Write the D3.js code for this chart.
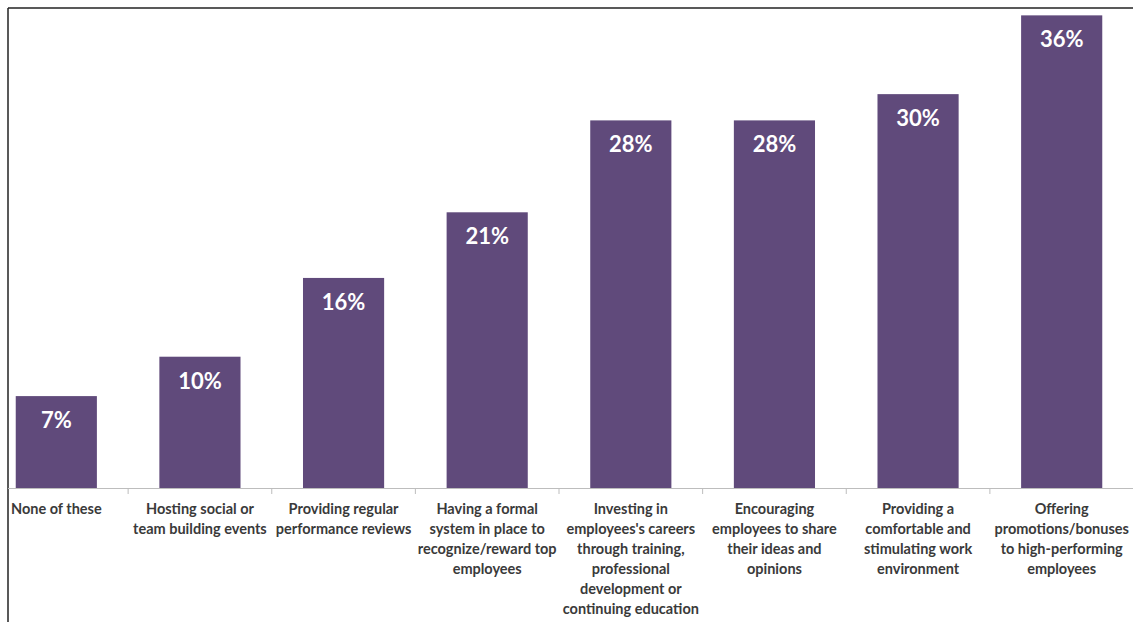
<!DOCTYPE html>
<html>
<head>
<meta charset="utf-8">
<script src="https://cdn.jsdelivr.net/npm/d3@7"></script>
<style>
  body { margin: 0; background: #fff; }
  svg { display: block; }
</style>
</head>
<body>
<div id="chart"></div>
<script>
var w = 1133;
var h = 622;

// data
var categories = [
  "None of these",
  "Hosting social or team building events",
  "Providing regular performance reviews",
  "Having a formal system in place to recognize/reward top employees",
  "Investing in employees's careers through training, professional development or continuing education",
  "Encouraging employees to share their ideas and opinions",
  "Providing a comfortable and stimulating work environment",
  "Offering promotions/bonuses to high-performing employees"
];
var values = [7, 10, 16, 21, 28, 28, 30, 36];
// line breaks as they appear under each bar
var labelLines = [
  ["None of these"],
  ["Hosting social or", "team building events"],
  ["Providing regular", "performance reviews"],
  ["Having a formal", "system in place to", "recognize/reward top", "employees"],
  ["Investing in", "employees's careers", "through training,", "professional", "development or", "continuing education"],
  ["Encouraging", "employees to share", "their ideas and", "opinions"],
  ["Providing a", "comfortable and", "stimulating work", "environment"],
  ["Offering", "promotions/bonuses", "to high-performing", "employees"]
];

var x = d3.scaleBand()
  .domain(categories)
  .range([-15.5, 1133.5])
  .paddingInner(0.435)
  .paddingOuter(0.2175);

var y = d3.scaleLinear()
  .domain([0, 37.17])
  .range([488, 0]);

var svg = d3.select("#chart").append("svg")
  .attr("width", w)
  .attr("height", h);

// frame
svg.append("line")
  .attr("x1", 8).attr("x2", w).attr("y1", 8).attr("y2", 8)
  .style("stroke", "#222").style("stroke-width", 1.5);
svg.append("line")
  .attr("x1", 8).attr("x2", 8).attr("y1", 8).attr("y2", h)
  .style("stroke", "#222").style("stroke-width", 1.5);

svg.selectAll("rect.bar")
  .data(values)
  .join("rect")
  .attr("class", "bar")
  .attr("x", function (d, i) { return x(categories[i]); })
  .attr("y", function (d) { return y(d); })
  .attr("width", x.bandwidth())
  .attr("height", function (d) { return y(0) - y(d); })
  .style("fill", "#604a7b");

svg.selectAll("text.val")
  .data(values)
  .join("text")
  .attr("class", "val")
  .attr("x", function (d, i) { return x(categories[i]) + x.bandwidth() / 2; })
  .attr("y", function (d) { return y(d) + 32; })
  .attr("text-anchor", "middle")
  .style("font-family", "Lato, 'Open Sans', sans-serif")
  .style("font-weight", "bold")
  .style("font-size", "22px")
  .style("fill", "#fff")
  .text(function (d) { return d + "%"; });

// x axis: baseline with ticks between categories
var step = x.step();
svg.append("line")
  .attr("x1", 8).attr("x2", w).attr("y1", y(0) + 0.5).attr("y2", y(0) + 0.5)
  .style("stroke", "#bdbdbd");
svg.selectAll("line.tick")
  .data(categories.slice(1))
  .join("line")
  .attr("class", "tick")
  .attr("x1", function (d) { return x(d) - (step - x.bandwidth()) / 2; })
  .attr("x2", function (d) { return x(d) - (step - x.bandwidth()) / 2; })
  .attr("y1", y(0))
  .attr("y2", y(0) + 6)
  .style("stroke", "#bdbdbd");

var lab = svg.selectAll("text.cat")
  .data(categories)
  .join("text")
  .attr("class", "cat")
  .attr("x", function (d) { return x(d) + x.bandwidth() / 2; })
  .attr("y", 514)
  .attr("text-anchor", "middle")
  .style("font-family", "Lato, 'Open Sans', sans-serif")
  .style("font-weight", "bold")
  .style("font-size", "14.5px")
  .style("fill", "#3a3a3a");

lab.selectAll("tspan")
  .data(function (d, i) { return labelLines[i].map(function (t) { return { t: t, cx: x(d) + x.bandwidth() / 2 }; }); })
  .join("tspan")
  .attr("x", function (d) { return d.cx; })
  .attr("dy", function (d, i) { return i === 0 ? 0 : 20; })
  .text(function (d) { return d.t; });
</script>
</body>
</html>
